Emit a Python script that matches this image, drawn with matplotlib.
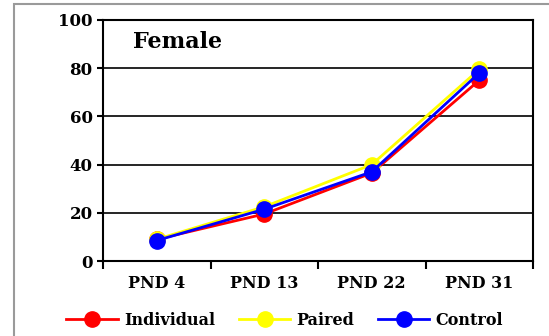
import numpy as np
import matplotlib.pyplot as plt
from matplotlib.patches import Rectangle

# ---------------------------------------------------------
# Data
# ---------------------------------------------------------
categories = ['PND 4', 'PND 13', 'PND 22', 'PND 31']
individual = [9, 19.5, 36.5, 75]
paired = [9, 22.5, 40, 79.5]
control = [8.5, 21.5, 37, 78]

series = [
    ('Individual', individual, '#ff0000'),
    ('Paired', paired, '#ffff00'),
    ('Control', control, '#0000ff'),
]

plt.rcParams['font.family'] = ['DejaVu Serif']
plt.rcParams['font.weight'] = 'bold'

fig = plt.figure(figsize=(5.49, 3.36), dpi=100)
# grey outer frame (chart area border)
fig.patches.append(Rectangle((14 / 549, -0.05), 1.0, 0.05 + 1 - 4 / 336,
                             transform=fig.transFigure, fill=False,
                             edgecolor='#9a9a9a', linewidth=1.5))

ax = fig.add_axes([103 / 549, 1 - 261 / 336, (533 - 103) / 549, (261 - 20) / 336])

x = np.arange(len(categories))
for name, vals, color in series:
    ax.plot(x, vals, color=color, linewidth=2, marker='o', markersize=11,
            markerfacecolor=color, markeredgecolor=color, label=name)

ax.set_xlim(-0.5, len(categories) - 0.5)
ax.set_ylim(0, 100)
ax.set_yticks(np.arange(0, 101, 20))
ax.set_xticks(x)
ax.set_xticklabels(categories, fontsize=11.5, fontweight='bold')
ax.tick_params(axis='x', length=0, pad=10)
ax.set_xticks(np.arange(-0.5, len(categories), 1), minor=True)
ax.tick_params(axis='x', which='minor', length=6, width=1.5, direction='out')
ax.tick_params(axis='y', length=4, width=1.5, direction='out', labelsize=12)
for lab in ax.get_yticklabels():
    lab.set_fontweight('bold')

ax.grid(axis='y', color='black', linewidth=1.2)
ax.set_axisbelow(True)
for sp in ax.spines.values():
    sp.set_linewidth(1.5)

ax.text(0.07, 0.91, 'Female', transform=ax.transAxes, fontsize=16,
        fontweight='bold', va='center', ha='left')

leg = ax.legend(loc='center', bbox_to_anchor=(0.423, -0.245), ncol=3,
                frameon=False, fontsize=11.5, handlelength=3.2,
                columnspacing=1.5, handletextpad=0.4)
for t in leg.get_texts():
    t.set_fontweight('bold')

fig.savefig('out.png', dpi=100)
